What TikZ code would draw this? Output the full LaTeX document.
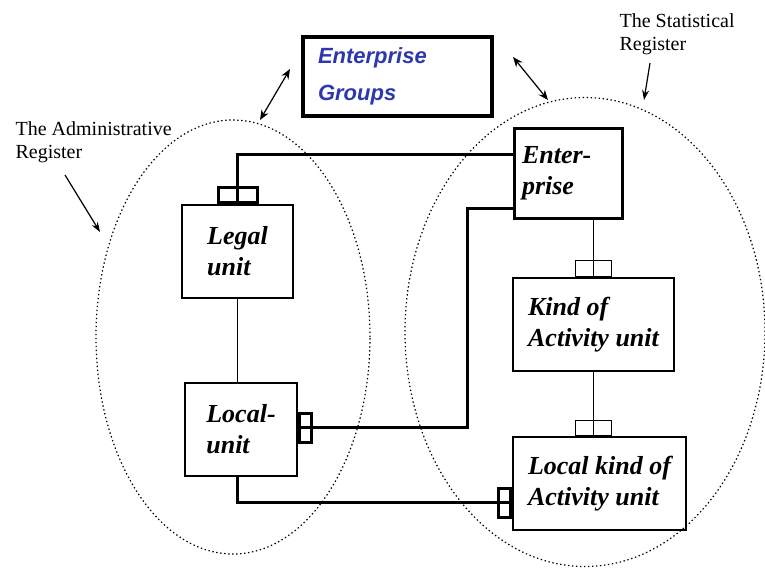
\documentclass[tikz,border=0pt]{standalone}
\usepackage{fontspec}
\setmainfont{Liberation Serif}
\newfontfamily\groupfont{Liberation Sans}
\usetikzlibrary{arrows.meta,shapes.geometric}
\definecolor{groupblue}{RGB}{45,55,175}

\begin{document}
\begin{tikzpicture}[x=0.5pt,y=-0.5pt,line width=0.6pt]
\tikzset{unitbox/.style={draw, inner sep=0pt, minimum height=46.5pt, align=left,
font=\fontsize{13}{15.5}\selectfont\bfseries\itshape},
regionline/.style={draw, ellipse, inner sep=0pt, dash pattern=on 0.7pt off 1.3pt},
tabbox/.style={draw, inner sep=0pt, fill=white},
heavy/.style={line width=1.5pt},
regtext/.style={align=left, inner sep=0pt, anchor=north west,
font=\fontsize{10}{11.5}\selectfont},
link/.style={{Stealth[length=5pt,width=4pt]}-{Stealth[length=5pt,width=4pt]}},
pointer/.style={-{Stealth[length=5pt,width=3.5pt]}},
}
\useasboundingbox (0,0) rectangle (765,569);

\node[regionline, minimum width=137pt, minimum height=217pt] (admin) at (233,337) {};
\node[regionline, minimum width=180pt, minimum height=234.5pt] (stat) at (585,332) {};

\node[draw, line width=2pt, minimum width=94.5pt, minimum height=39.5pt, inner xsep=7.5pt,
text width=79.5pt, align=left, text=groupblue,
font=\fontsize{11}{18.5}\selectfont\groupfont\bfseries\itshape] (groups) at (397.5,76.5) {Enterprise\\Groups};
\node[unitbox, heavy, minimum width=54pt, minimum height=45pt, inner xsep=3.75pt,
text width=46.5pt] (enterprise) at (568.5,173.5) {Enter-\\prise};
\node[unitbox, minimum width=55.5pt] (legal) at (237.5,251.5) {Legal\\unit};
\node[unitbox, minimum width=56pt] (local) at (241,429.5) {Local-\\unit};
\node[unitbox, minimum width=80.5pt] (kau) at (593.5,324.5) {Kind of\\Activity unit};
\node[unitbox, minimum width=86.5pt] (lkau) at (599.5,483.5) {Local kind of\\Activity unit};

\node[tabbox, heavy, minimum width=19.5pt, minimum height=7.5pt, anchor=south] (legaltab) at (legal.north) {};
\node[tabbox, heavy, minimum width=6pt, minimum height=14.5pt, anchor=west] (localtab) at ([yshift=1pt]local.east) {};
\node[tabbox, heavy, minimum width=6pt, minimum height=14.5pt, anchor=east] (lkautabw) at ([yshift=-9.5pt]lkau.west) {};
\node[tabbox, minimum width=18pt, minimum height=8pt, anchor=south] (kautab) at (kau.north) {};
\node[tabbox, minimum width=18pt, minimum height=7.5pt, anchor=south] (lkautab) at (lkau.north -| kau.south) {};

\coordinate (bend) at (467,208);
\draw[heavy] (legal.north) |- ([yshift=-13.5pt]enterprise.north west);
\draw[heavy] ([yshift=1pt]local.east) -| (bend) -- (bend -| enterprise.west);
\draw[heavy] ([xshift=-2pt]local.south) |- (lkautabw.west);
\draw[heavy] (lkautabw.west) -- ([yshift=-9.5pt]lkau.west);
\draw (legal.south) -- (legal.south |- local.north);
\draw (kau.north) -- (kau.north |- enterprise.south);
\draw (kau.south) -- (kau.south |- lkau.north);

\node[regtext] (admintext) at (15,121) {The Administrative\\Register};
\node[regtext] (stattext) at (619,13) {The Statistical\\Register};

\coordinate (gl1) at (260,120);
\coordinate (gl2) at (290,69);
\coordinate (gr1) at (513,57);
\coordinate (gr2) at (548,100);
\coordinate (al1) at (65,175);
\coordinate (al2) at (100,232);
\coordinate (sl1) at (650,63);
\coordinate (sl2) at (644,100);
\draw[link] (gl1) -- (gl2);
\draw[link] (gr1) -- (gr2);
\draw[pointer] (al1) -- (al2);
\draw[pointer] (sl1) -- (sl2);
\end{tikzpicture}
\end{document}
